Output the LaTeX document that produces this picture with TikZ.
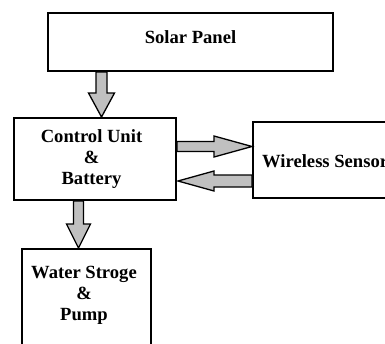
\documentclass[tikz,border=0pt]{standalone}
\usepackage{fontspec}
\setmainfont{Liberation Serif}
\usetikzlibrary{calc}
\definecolor{arrowgray}{HTML}{C0C0C0}
\tikzset{
  box/.style={draw=black, line width=2pt, fill=white, inner sep=0pt},
  lbl/.style={font=\fontsize{18.6}{21}\selectfont\bfseries, align=center, inner sep=0pt},
  blockarrow/.style={draw=black, line width=1.3pt, fill=arrowgray, line join=miter}
}
% #1 start, #2 tip, #3 shaft half width, #4 head half width, #5 head length
\newcommand\blockarr[5]{%
  \coordinate (bh) at ($(#2)!#5!(#1)$);
  \draw[blockarrow] ($(#1)!#3!90:(#2)$) -- ($(bh)!#3!-90:(#1)$) -- ($(bh)!#4!-90:(#1)$)
    -- (#2) -- ($(bh)!#4!90:(#1)$) -- ($(bh)!#3!90:(#1)$) -- ($(#1)!#3!-90:(#2)$) -- cycle;
}
\begin{document}
\begin{tikzpicture}[x=1pt,y=-1pt]
\useasboundingbox (0,0) rectangle (385,343);
\fill[white] (0,0) rectangle (385,343);
% boxes
\node[box, minimum width=285pt, minimum height=58pt] (solar) at (190.5,42) {};
\node[box, minimum width=162pt, minimum height=82pt] (ctrl) at (95,159) {};
\node[box, minimum width=150pt, minimum height=76pt, anchor=west] (wire) at (252,160) {};
\node[box, minimum width=129pt, minimum height=112pt, anchor=north] (water) at (86.5,248) {};
% labels
\node[lbl] (solarlbl) at ([yshift=5pt]solar.center) {Solar Panel};
\node[lbl] (ctrllbl) at ([xshift=-3.5pt]ctrl.center) {Control Unit\\\&\\Battery};
\node[lbl, anchor=west] (wirelbl) at ([xshift=10pt,yshift=-1pt]wire.west) {Wireless Sensor};
\node[lbl] (waterlbl) at ([xshift=-2.5pt]water.north |- 0,295) {Water Stroge\\\&\\Pump};
% connector end points
\coordinate (a1s) at ([xshift=-89pt]solar.south);
\coordinate (a1e) at (a1s |- ctrl.north);
\coordinate (a2s) at ([xshift=-16.5pt]ctrl.south);
\coordinate (a2e) at (a2s |- water.north);
\coordinate (a3s) at ([yshift=12.5pt]ctrl.east);
\coordinate (a3e) at (a3s -| wire.west);
\coordinate (a4s) at ([yshift=-21pt]wire.west);
\coordinate (a4e) at ([xshift=1pt]a4s -| ctrl.east);
% arrows
\blockarr{a1s}{a1e}{5.5pt}{13pt}{24pt}
\blockarr{a2s}{a2e}{5pt}{12pt}{24pt}
\blockarr{a3s}{a3e}{5pt}{10.5pt}{38pt}
\blockarr{a4s}{a4e}{6pt}{10pt}{36pt}
\end{tikzpicture}
\end{document}
